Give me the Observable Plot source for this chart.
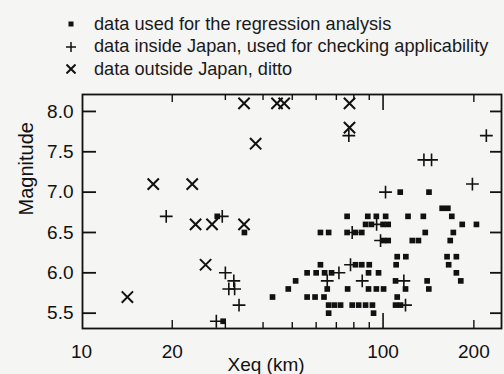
<!DOCTYPE html>
<html>
<head>
<meta charset="utf-8">
<script src="https://cdn.jsdelivr.net/npm/d3@7"></script>
<script src="https://cdn.jsdelivr.net/npm/@observablehq/plot@0.6"></script>
<style>
  html, body { margin: 0; padding: 0; background: #f5f5f4; }
  body { width: 504px; height: 374px; overflow: hidden; font-family: "Liberation Sans", Arial, sans-serif; color: #1a1a1a; }
  #legend { position: relative; height: 80px; }
  .row { position: absolute; left: 0; height: 22px; display: flex; align-items: center; font-size: 18.2px; white-space: nowrap; }
  .row svg { margin-left: 66px; margin-right: 18px; }
</style>
</head>
<body>
<div id="legend"></div>
<div id="chart"></div>
<script>
// ---- data (Xeq in km, magnitude) ----
const regressionXeq = [
  114, 142,
  157, 164,
  28.2, 76, 89, 95, 102, 121, 136, 169,
  87.5, 91.5, 100, 104, 183, 204,
  34.7, 62, 66, 76, 81, 85, 138, 171,
  100.4, 104, 125, 131, 167,
  111.4, 119, 163, 175,
  62, 81, 85, 90, 110.5, 165,
  56, 60, 64, 67.5, 89.5, 96.6, 175,
  51.3, 110, 140, 181,
  48.5, 65.3, 76.3, 89.5, 95, 100.4, 118.7, 141.8,
  43, 56, 59.5, 63.7, 111.4,
  66, 69, 72.3, 79, 83, 87.5, 92.2, 110, 114.3,
  66, 93,
  29.5
];
const regressionMag = [
  7.0, 7.0,
  6.8, 6.8,
  6.7, 6.7, 6.7, 6.7, 6.7, 6.7, 6.7, 6.7,
  6.6, 6.6, 6.6, 6.6, 6.6, 6.6,
  6.5, 6.5, 6.5, 6.5, 6.5, 6.5, 6.5, 6.5,
  6.4, 6.4, 6.4, 6.4, 6.4,
  6.2, 6.2, 6.2, 6.2,
  6.1, 6.1, 6.1, 6.1, 6.1, 6.1,
  6.0, 6.0, 6.0, 6.0, 6.0, 6.0, 6.0,
  5.9, 5.9, 5.9, 5.9,
  5.8, 5.8, 5.8, 5.8, 5.8, 5.8, 5.8, 5.8,
  5.7, 5.7, 5.7, 5.7, 5.7,
  5.6, 5.6, 5.6, 5.6, 5.6, 5.6, 5.6, 5.6, 5.6,
  5.5, 5.5,
  5.4
];
const insideXeq = [19.1, 29.3, 30, 32, 30.8, 32.2, 33.3, 28, 77, 220, 136.6, 144.8, 197.8, 101.9, 79, 95.2, 98.1, 78, 71.4, 65.3, 85.3, 117.2, 118.7];
const insideMag = [6.7, 6.7, 6.0, 5.9, 5.8, 5.8, 5.6, 5.4, 7.7, 7.7, 7.4, 7.4, 7.1, 7.0, 6.5, 6.6, 6.4, 6.1, 6.0, 5.9, 5.9, 5.9, 5.6];
const outsideXeq = [34.6, 44.5, 47, 77.4, 77.4, 37.8, 17.3, 23.3, 23.9, 27.1, 34.6, 25.8, 14.2];
const outsideMag = [8.1, 8.1, 8.1, 8.1, 7.8, 7.6, 7.1, 7.1, 6.6, 6.6, 6.6, 6.1, 5.7];

const legendLabels = [
  "data used for the regression analysis",
  "data inside Japan, used for checking applicability",
  "data outside Japan, ditto"
];
const xLabelTicks = [10, 20, 100, 200];
const xMinorTicks = [30, 40, 50, 60, 70, 80, 90];
const xMidTicks = [20, 200];
const xLongTicks = [100];
const yTicks = [5.5, 6.0, 6.5, 7.0, 7.5, 8.0];
const xTitle = "Xeq (km)";
const yTitle = "Magnitude";

// ---- tables ----
const regression = regressionXeq.map((x, i) => ({x, m: regressionMag[i]}));
const inside = insideXeq.map((x, i) => ({x, m: insideMag[i]}));
const outside = outsideXeq.map((x, i) => ({x, m: outsideMag[i]}));

// ---- legend ----
const glyphs = [
  '<rect x="2.5" y="2.5" width="5" height="5" fill="#111"/>',
  '<path d="M0,5H10M5,0V10" stroke="#111" stroke-width="1.5"/>',
  '<path d="M0.5,0.5L9.5,9.5M9.5,0.5L0.5,9.5" stroke="#111" stroke-width="2"/>'
];
const legend = document.getElementById("legend");
legendLabels.forEach((t, i) => {
  const row = document.createElement("div");
  row.className = "row";
  row.style.top = (13 + i * 22.5) + "px";
  row.innerHTML = `<svg width="10" height="10" viewBox="0 0 10 10">${glyphs[i]}</svg><span>${t}</span>`;
  legend.appendChild(row);
});

// ---- chart ----
const W = 504, H = 294, mT = 14, mB = 46, mL = 82, mR = 3;
const innerH = H - mT - mB, innerW = W - mL - mR;
const ink = "#111";

const chart = Plot.plot({
  width: W, height: H,
  marginTop: mT, marginBottom: mB, marginLeft: mL, marginRight: mR,
  style: {background: "transparent", fontFamily: "Liberation Sans, Arial, sans-serif", color: ink},
  x: {type: "log", domain: [10.08, 247]},
  y: {domain: [5.31, 8.21]},
  marks: [
    // inward ticks
    Plot.tickX(xMinorTicks, {x: d => d, stroke: ink, strokeWidth: 1.4, insetTop: innerH - 6}),
    Plot.tickX(xMinorTicks, {x: d => d, stroke: ink, strokeWidth: 1.4, insetBottom: innerH - 6}),
    Plot.tickX(xMidTicks, {x: d => d, stroke: ink, strokeWidth: 1.4, insetTop: innerH - 8}),
    Plot.tickX(xMidTicks, {x: d => d, stroke: ink, strokeWidth: 1.4, insetBottom: innerH - 8}),
    Plot.tickX(xLongTicks, {x: d => d, stroke: ink, strokeWidth: 1.6, insetTop: innerH - 15}),
    Plot.tickX(xLongTicks, {x: d => d, stroke: ink, strokeWidth: 1.6, insetBottom: innerH - 16}),
    Plot.tickY(yTicks, {y: d => d, stroke: ink, strokeWidth: 1.8, insetRight: innerW - 14}),
    Plot.tickY(yTicks, {y: d => d, stroke: ink, strokeWidth: 1.8, insetLeft: innerW - 11}),
    Plot.frame({stroke: ink, strokeWidth: 1.8}),
    Plot.axisX({ticks: xLabelTicks, tickSize: 0, tickPadding: 16, fontSize: 19, tickFormat: d => String(d), label: null}),
    Plot.axisY({ticks: yTicks, tickSize: 0, tickPadding: 9, fontSize: 19, tickFormat: d3.format(".1f"), label: null}),
    Plot.text([xTitle], {text: d => d, frameAnchor: "bottom", dx: -26, dy: 42, fontSize: 19, fill: ink}),
    Plot.text([yTitle], {text: d => d, frameAnchor: "left", rotate: -90, dx: -56, dy: 4, fontSize: 20, fill: ink}),
    // data
    Plot.dot(regression, {x: "x", y: "m", symbol: "square", r: 3.2, fill: ink, stroke: "none"}),
    Plot.dot(inside, {x: "x", y: "m", symbol: "plus", r: 4.2, stroke: ink, strokeWidth: 1.6}),
    Plot.dot(outside, {x: "x", y: "m", symbol: "times", r: 5.2, stroke: ink, strokeWidth: 2})
  ]
});
document.getElementById("chart").appendChild(chart);
</script>
</body>
</html>
